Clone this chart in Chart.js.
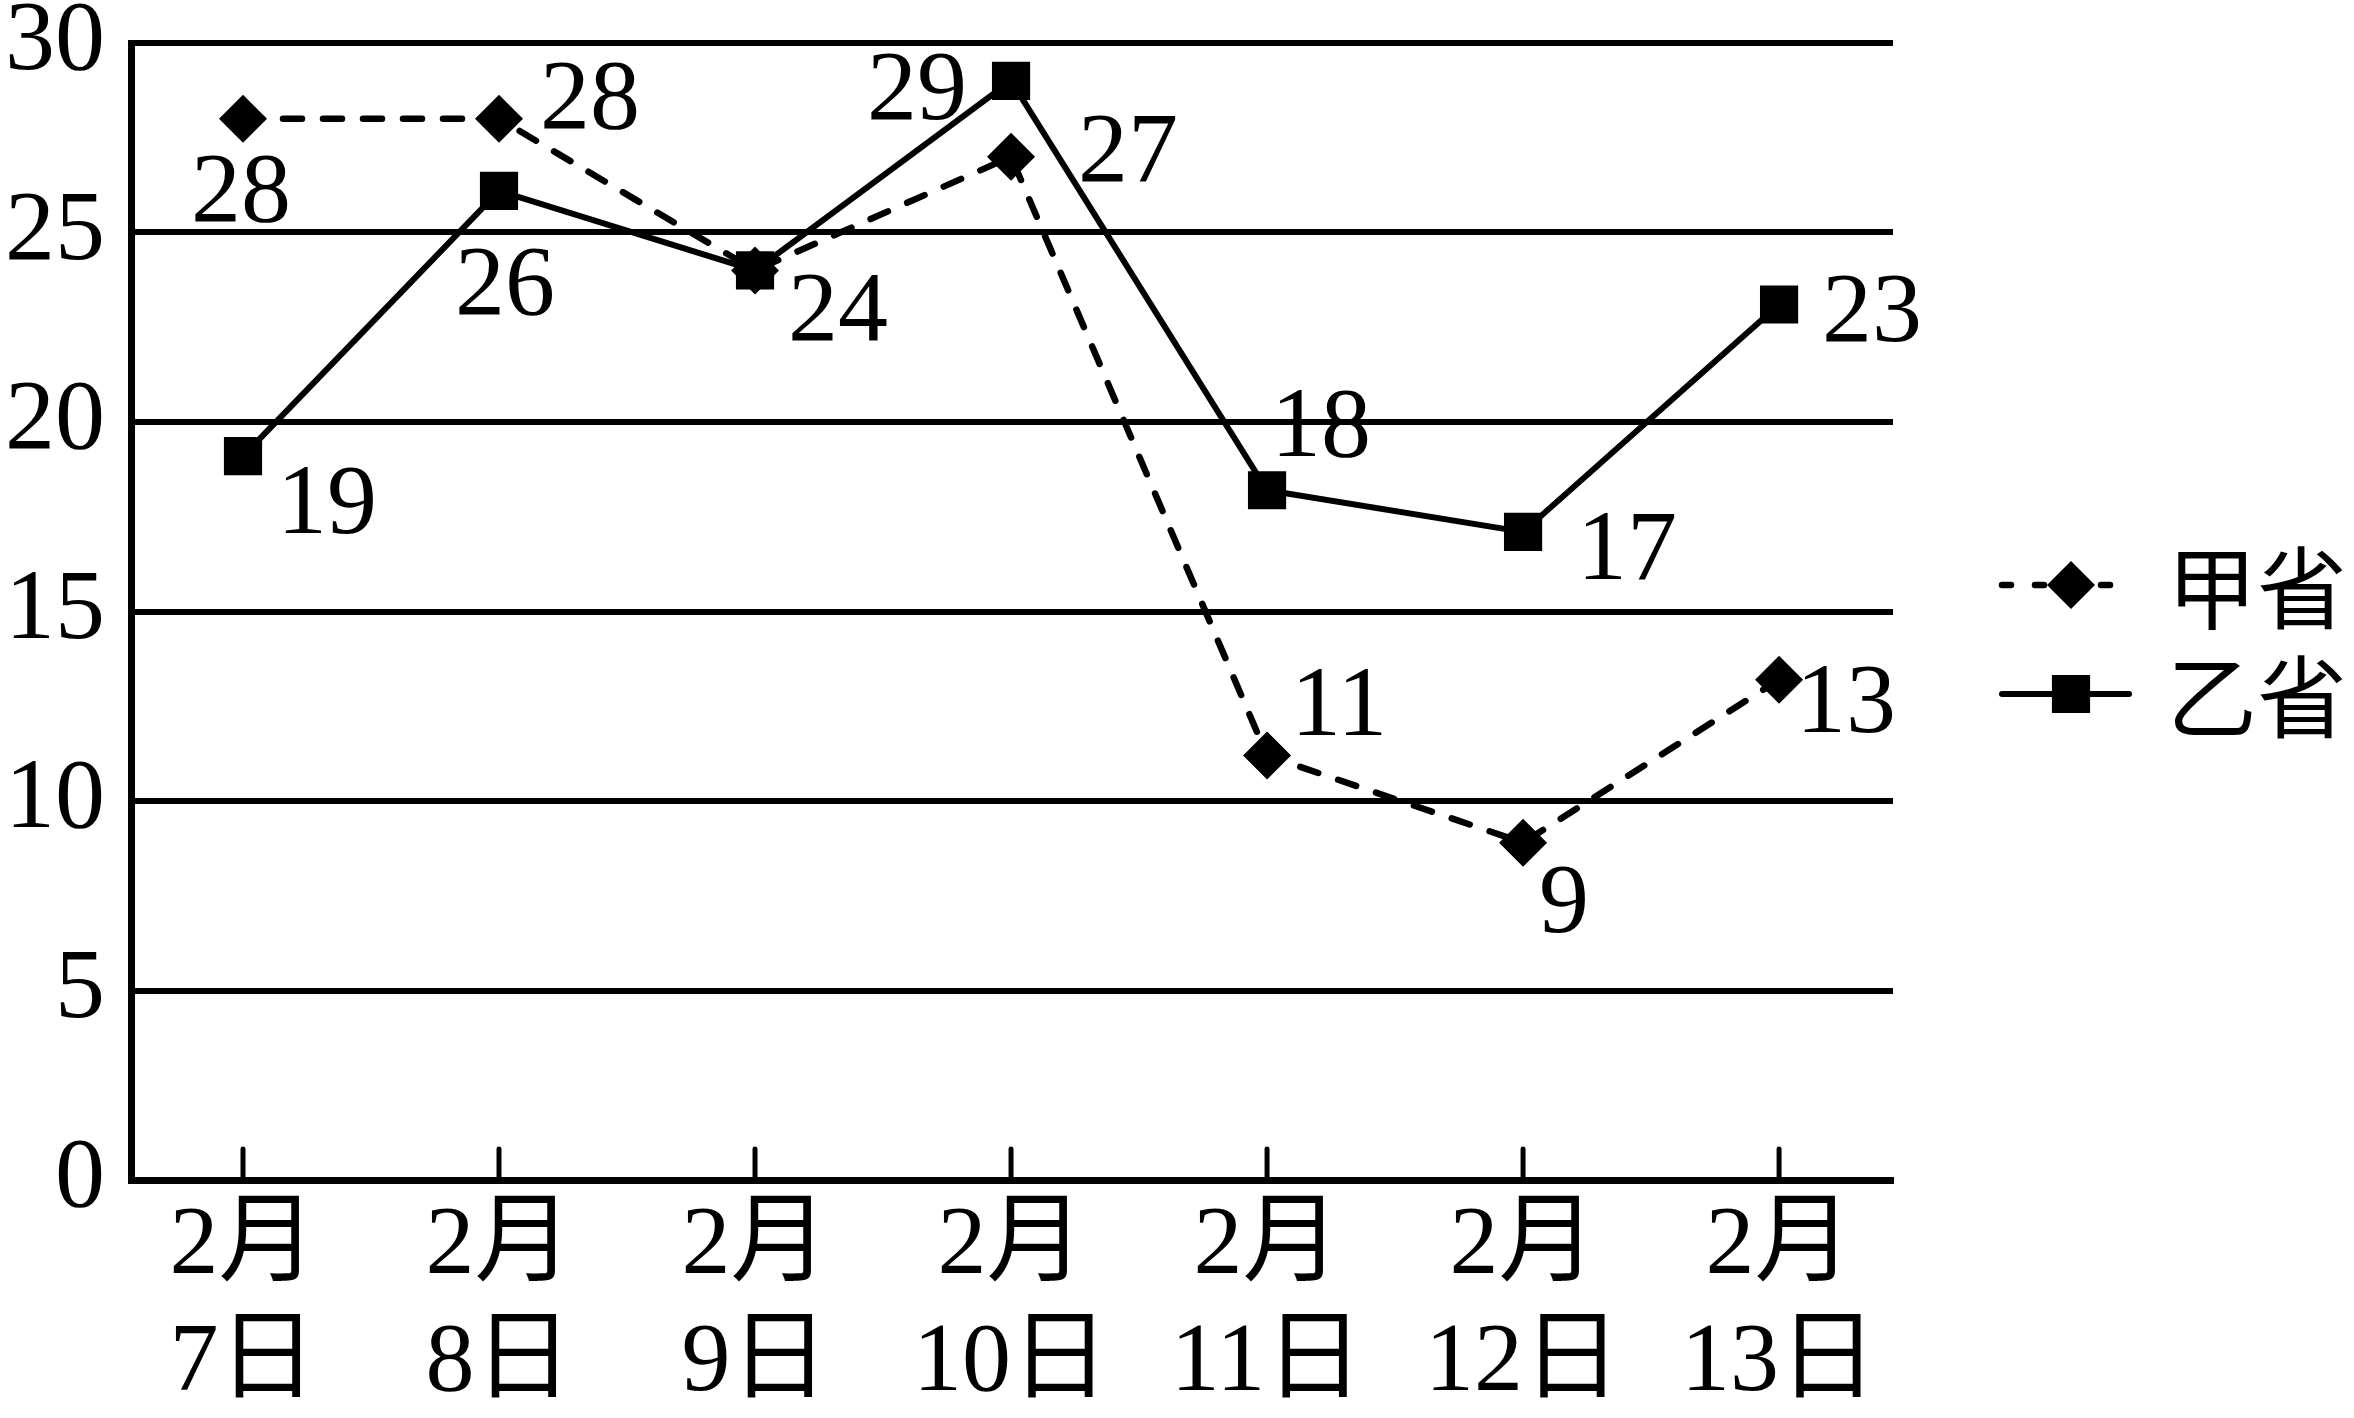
<!DOCTYPE html>
<html><head><meta charset="utf-8">
<script src="https://cdn.jsdelivr.net/npm/chart.js@4"></script>
<style>html,body{margin:0;padding:0;background:#fff;} canvas{display:block;}</style>
</head><body>
<canvas id="c" width="2354" height="1418"></canvas>
<script>
// ---- data ----
const dates = [['2月','7日'],['2月','8日'],['2月','9日'],['2月','10日'],['2月','11日'],['2月','12日'],['2月','13日']];
const seriesNames = ['甲省','乙省'];
const jiaValues = [28, 28, 24, 27, 11.2, 8.9, 13.2];
const yiValues = [19.1, 26.1, 24, 29, 18.2, 17.1, 23.1];
const yTicks = [0,5,10,15,20,25,30];

// ---- label placement (px offsets from each point; null = not shown) ----
const jiaLabelOffsets = [[-2,69],[91,-24],[83,37],[117,-9],[72,-54],[41,56],[67,19]];
const yiLabelOffsets = [[84,44],[6,90],null,[-94,5],[54,-67],[104,14],[93,3]];

const SERIF = '"Liberation Serif", "Noto Sans CJK SC", serif';
const LEGEND = {rowsY:[585,694], lineX0:1998, lineX1:2133, markerX:2071, textX:2167, font:'90px "Noto Sans CJK SC", sans-serif'};

const whiteBg = {id:'whiteBg', beforeDraw(c){const x=c.ctx;x.save();x.fillStyle='#fff';x.fillRect(0,0,c.width,c.height);x.restore();}};

const innerTicks = {id:'innerTicks', beforeDatasetsDraw(c){
  const ctx=c.ctx, xs=c.scales.x, y0=c.chartArea.bottom;
  ctx.save(); ctx.strokeStyle='#000'; ctx.lineWidth=5; ctx.lineCap='round';
  dates.forEach((_,i)=>{const x=xs.getPixelForValue(i); ctx.beginPath(); ctx.moveTo(x,y0); ctx.lineTo(x,y0-31); ctx.stroke();});
  ctx.restore();
}};

const valueLabels = {id:'valueLabels', afterDatasetsDraw(c){
  const ctx=c.ctx; ctx.save(); ctx.fillStyle='#000'; ctx.font='100px '+SERIF; ctx.textAlign='center'; ctx.textBaseline='alphabetic';
  c.data.datasets.forEach((ds,di)=>{
    const meta=c.getDatasetMeta(di);
    meta.data.forEach((pt,i)=>{
      const off=ds.labelOffsets[i]; if(!off) return;
      ctx.fillText(String(Math.round(ds.data[i].y)), pt.x+off[0], pt.y+off[1]+33);
    });
  });
  ctx.restore();
}};

function drawMarker(ctx, style, r, x, y){
  ctx.beginPath();
  if(style==='rectRot'){ctx.moveTo(x-r,y);ctx.lineTo(x,y-r);ctx.lineTo(x+r,y);ctx.lineTo(x,y+r);ctx.closePath();}
  else {const s=Math.SQRT1_2*r; ctx.rect(x-s,y-s,2*s,2*s);}
  ctx.fill();
}

const sideLegend = {id:'sideLegend', afterDraw(c){
  const ctx=c.ctx; ctx.save();
  c.data.datasets.forEach((ds,i)=>{
    const y=LEGEND.rowsY[i];
    ctx.strokeStyle=ds.borderColor; ctx.lineWidth=ds.borderWidth; ctx.lineCap='round';
    ctx.setLineDash(ds.borderDash ? [9,24] : []);
    ctx.lineDashOffset = 0;
    ctx.beginPath(); ctx.moveTo(LEGEND.lineX0+4,y); ctx.lineTo(LEGEND.lineX1-4,y); ctx.stroke();
    ctx.setLineDash([]);
    ctx.fillStyle=ds.pointBackgroundColor;
    drawMarker(ctx, ds.pointStyle, ds.pointRadius, LEGEND.markerX, y);
    ctx.fillStyle='#000'; ctx.font=LEGEND.font; ctx.textAlign='left'; ctx.textBaseline='middle';
    ctx.fillText(ds.label, LEGEND.textX, y+3);
  });
  ctx.restore();
}};

const toPoints = arr => arr.map((v,i)=>({x:i,y:v}));

new Chart(document.getElementById('c'), {
  type:'line',
  data:{datasets:[
    {label:seriesNames[0], data:toPoints(jiaValues), labelOffsets:jiaLabelOffsets,
     borderColor:'#000', backgroundColor:'#000', borderWidth:6.5, borderDash:[19,21], borderCapStyle:'round',
     pointStyle:'rectRot', pointRadius:24, pointBorderWidth:0, pointBackgroundColor:'#000', tension:0, fill:false},
    {label:seriesNames[1], data:toPoints(yiValues), labelOffsets:yiLabelOffsets,
     borderColor:'#000', backgroundColor:'#000', borderWidth:6, borderCapStyle:'round', borderJoinStyle:'miter',
     pointStyle:'rect', pointRadius:27, pointBorderWidth:0, pointBackgroundColor:'#000', tension:0, fill:false}
  ]},
  options:{
    responsive:false, animation:false, devicePixelRatio:1, events:[],
    layout:{padding:{top:43,right:461,left:0,bottom:0}},
    plugins:{legend:{display:false}, tooltip:{enabled:false}},
    scales:{
      x:{type:'linear', min:-0.4375, max:6.445,
         afterBuildTicks:s=>{s.ticks=dates.map((_,i)=>({value:i}));},
         afterFit:s=>{s.height=238; s.paddingLeft=0; s.paddingRight=0;},
         grid:{display:true, drawOnChartArea:false, drawTicks:false},
         border:{display:true, color:'#000', width:7},
         ticks:{callback:v=>dates[v], color:'#000', font:{family:SERIF, size:98, lineHeight:1.2}, padding:8, maxRotation:0, autoSkip:false}},
      y:{min:0, max:30,
         afterBuildTicks:s=>{s.ticks=yTicks.map(v=>({value:v}));},
         afterFit:s=>{s.width=131; s.paddingTop=0; s.paddingBottom=0;},
         grid:{color:'#000', lineWidth:6, drawTicks:false},
         border:{display:true, color:'#000', width:7},
         ticks:{color:'#000', font:{family:SERIF, size:100}, padding:26}}
    }
  },
  plugins:[whiteBg, innerTicks, valueLabels, sideLegend]
});
</script>
</body></html>
